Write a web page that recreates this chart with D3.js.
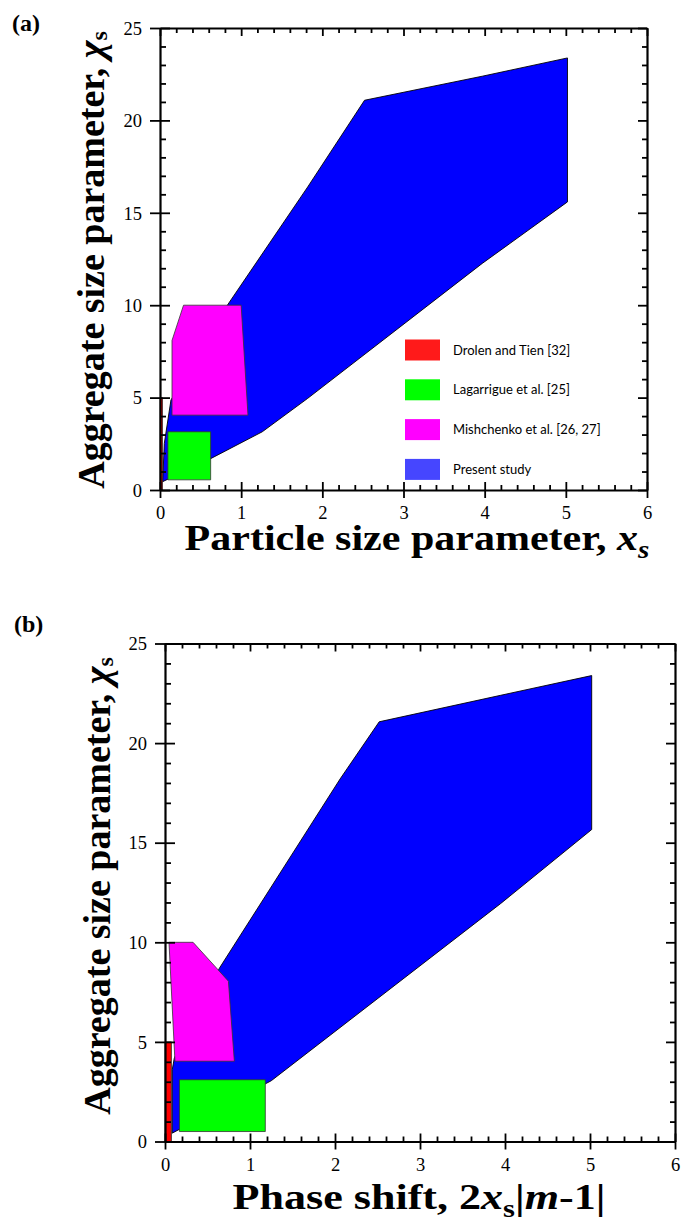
<!DOCTYPE html>
<html>
<head>
<meta charset="utf-8">
<script src="https://cdn.jsdelivr.net/npm/d3@7"></script>
<style>
  html, body { margin: 0; padding: 0; background: #fff; }
  svg { display: block; }
</style>
</head>
<body>
<svg id="chart" width="691" height="1221"></svg>
<script>
// ---- data ----
const xTicks = [0, 1, 2, 3, 4, 5, 6];
const yTicks = [0, 5, 10, 15, 20, 25];
const xMinorTicks = d3.range(0, 6.001, 0.2).map(v => +v.toFixed(1));
const yMinorTicks = d3.range(0, 26, 1);

const legendLabels = ["Drolen and Tien [32]", "Lagarrigue et al. [25]", "Mishchenko et al. [26, 27]", "Present study"];

// (a) regions in particle-size-parameter space [x_s, X_s]
const drolenA = [[0, 0], [0, 5], [0.03, 5], [0.03, 0]];
const lagarrigueA = [[0.097, 0.55], [0.097, 3.15], [0.624, 3.15], [0.624, 0.55]];
const mishchenkoA = [[0.148, 4.05], [0.148, 8.09], [0.29, 10.0], [1.0, 10.0], [1.084, 4.05]];
const presentA = [[0.033, 0.45], [0.053, 2.52], [0.135, 4.87], [0.83, 10.0], [1.82, 16.4], [2.52, 21.09],
                  [3.97, 22.39], [5.02, 23.38], [5.02, 15.59], [3.97, 12.26], [1.82, 4.96], [1.26, 3.15], [0.63, 1.71]];

// (b) regions in phase-shift space [2x_s|m-1|, X_s]
const drolenB = [[0, 0], [0, 5], [0.075, 5], [0.075, 0]];
const lagarrigueB = [[0.17, 0.5], [0.17, 3.1], [1.18, 3.1], [1.18, 0.5]];
const mishchenkoB = [[0.047, 10.0], [0.33, 10.0], [0.746, 8.05], [0.816, 4.03], [0.117, 4.03]];
const presentB = [[0.085, 0.42], [0.085, 3.6], [0.11, 4.2], [0.64, 8.7], [2.06, 18.2], [2.52, 21.07],
                  [3.95, 22.4], [5.02, 23.39], [5.02, 15.66], [3.95, 11.95], [1.25, 3.05]];

// ---- styles ----
const fills = { drolen: "#ff0000", lagarrigue: "#00ff00", mishchenko: "#ff00ff", present: "#0000ff" };
const legendFills = ["#ff1a1a", "#00ff00", "#ff00ff", "#4646ff"];
const serif = "'Liberation Serif', 'Times New Roman', serif";

const svg = d3.select("#chart");

// stretch a text element horizontally about cx so that it spans `width` pixels
function fitWidth(sel, cx, width) {
  const w = sel.node().getBBox().width;
  const k = width / w;
  sel.attr("transform", `translate(${cx},0) scale(${k},1) translate(${-cx},0)`);
}

function drawPanel(cfg) {
  const x = d3.scaleLinear().domain([0, 6]).range([cfg.left, cfg.right]);
  const y = d3.scaleLinear().domain([0, 25]).range([cfg.bottom, cfg.top]);
  const g = svg.append("g");

  const line = d3.line().x(d => x(d[0])).y(d => y(d[1]));
  const regions = [
    [cfg.present, fills.present, "#000", 0.9],
    [cfg.mishchenko, fills.mishchenko, "#333", 0.8],
    [cfg.lagarrigue, fills.lagarrigue, "#333", 0.8],
    [cfg.drolen, fills.drolen, "#222", 0.8]
  ];
  regions.forEach(([pts, fill, stroke, sw]) => {
    g.append("path")
      .attr("d", line(pts) + "Z")
      .attr("fill", fill)
      .attr("stroke", stroke)
      .attr("stroke-width", sw)
      .attr("stroke-linejoin", "miter");
  });

  const styleAxis = sel => {
    sel.select(".domain").attr("stroke", "#000").attr("stroke-width", 2.2);
    sel.selectAll(".tick line").attr("stroke", "#000").attr("stroke-width", 1.8);
  };
  const minorOnly = (all, major) => all.filter(v => !major.includes(v));

  // bottom axis: major ticks cross the axis line, minor ticks point inward
  const bottom = g.append("g").attr("transform", `translate(0,${cfg.bottom})`)
    .call(d3.axisBottom(x).tickValues(xTicks).tickSizeInner(8).tickSizeOuter(0).tickFormat(d3.format("d")));
  bottom.selectAll(".tick line").attr("y1", -8);
  bottom.selectAll(".tick text").attr("y", 29).attr("dy", null)
    .attr("font-family", serif).attr("font-size", 18.5).attr("fill", "#000");
  styleAxis(bottom);
  const bottomMinor = g.append("g").attr("transform", `translate(0,${cfg.bottom})`)
    .call(d3.axisBottom(x).tickValues(minorOnly(xMinorTicks, xTicks)).tickSize(-5).tickFormat(""));
  bottomMinor.select(".domain").remove();
  styleAxis(bottomMinor);

  // top axis
  const top = g.append("g").attr("transform", `translate(0,${cfg.top})`)
    .call(d3.axisTop(x).tickValues(xTicks).tickSize(-8).tickSizeOuter(0).tickFormat(""));
  styleAxis(top);
  const topMinor = g.append("g").attr("transform", `translate(0,${cfg.top})`)
    .call(d3.axisTop(x).tickValues(minorOnly(xMinorTicks, xTicks)).tickSize(-5).tickFormat(""));
  topMinor.select(".domain").remove();
  styleAxis(topMinor);

  // left axis
  const left = g.append("g").attr("transform", `translate(${cfg.left},0)`)
    .call(d3.axisLeft(y).tickValues(yTicks).tickSizeInner(10).tickSizeOuter(0).tickFormat(d3.format("d")));
  left.selectAll(".tick line").attr("x1", 10);
  left.selectAll(".tick text").attr("x", -18).attr("dy", "0.34em")
    .attr("font-family", serif).attr("font-size", 18.5).attr("fill", "#000");
  styleAxis(left);
  const leftMinor = g.append("g").attr("transform", `translate(${cfg.left},0)`)
    .call(d3.axisLeft(y).tickValues(minorOnly(yMinorTicks, yTicks)).tickSize(-6).tickFormat(""));
  leftMinor.select(".domain").remove();
  styleAxis(leftMinor);

  // right axis
  const right = g.append("g").attr("transform", `translate(${cfg.right},0)`)
    .call(d3.axisRight(y).tickValues(yTicks).tickSize(-9).tickSizeOuter(0).tickFormat(""));
  styleAxis(right);
  const rightMinor = g.append("g").attr("transform", `translate(${cfg.right},0)`)
    .call(d3.axisRight(y).tickValues(minorOnly(yMinorTicks, yTicks)).tickSize(-5).tickFormat(""));
  rightMinor.select(".domain").remove();
  styleAxis(rightMinor);

  // panel tag
  g.append("text").attr("x", cfg.tagX).attr("y", cfg.tagY)
    .attr("font-family", serif).attr("font-weight", "bold").attr("font-size", 24)
    .text(cfg.tag);

  // y-axis title
  const yt = g.append("text")
    .attr("transform", `translate(${cfg.yTitleX},${cfg.yTitleCY}) rotate(-90)`)
    .attr("text-anchor", "middle")
    .attr("font-family", serif).attr("font-weight", "bold").attr("font-size", 38);
  yt.append("tspan").text("Aggregate size parameter, ");
  yt.append("tspan").attr("font-style", "italic").text("χ");
  yt.append("tspan").attr("font-size", 24).attr("dy", 3).text("s");

  // x-axis title
  const xt = g.append("text")
    .attr("x", cfg.xTitleCX).attr("y", cfg.xTitleY)
    .attr("text-anchor", "middle")
    .attr("font-family", serif).attr("font-weight", "bold").attr("font-size", 36);
  cfg.xTitle(xt);
  fitWidth(xt, cfg.xTitleCX, cfg.xTitleW);

  return { x, y, g };
}

const pa = drawPanel({
  left: 160, right: 647, top: 28, bottom: 490,
  present: presentA, mishchenko: mishchenkoA, lagarrigue: lagarrigueA, drolen: drolenA,
  tag: "(a)", tagX: 12, tagY: 31, yTitleX: 104, yTitleCY: 260,
  xTitleCX: 417, xTitleY: 550, xTitleW: 465,
  xTitle: t => {
    t.append("tspan").text("Particle size parameter, ");
    t.append("tspan").attr("font-style", "italic").text("x");
    t.append("tspan").attr("font-style", "italic").attr("font-size", 25).attr("dy", 8).text("s");
  }
});

const pb = drawPanel({
  left: 165, right: 675, top: 643.5, bottom: 1141.5,
  present: presentB, mishchenko: mishchenkoB, lagarrigue: lagarrigueB, drolen: drolenB,
  tag: "(b)", tagX: 14, tagY: 632, yTitleX: 110, yTitleCY: 886,
  xTitleCX: 419, xTitleY: 1209, xTitleW: 373,
  xTitle: t => {
    t.append("tspan").text("Phase shift, 2");
    t.append("tspan").attr("font-style", "italic").text("x");
    t.append("tspan").attr("font-size", 25).attr("dy", 8).text("s");
    t.append("tspan").attr("dy", -8).text("|");
    t.append("tspan").attr("font-style", "italic").text("m");
    t.append("tspan").text("-1|");
  }
});

// legend for panel (a)
const legend = pa.g.append("g");
const legendRowY = i => 350 + i * 39.8;
legend.selectAll("rect").data(legendLabels).join("rect")
  .attr("x", 405).attr("y", (d, i) => legendRowY(i) - 10.5)
  .attr("width", 35).attr("height", 21)
  .attr("fill", (d, i) => legendFills[i]);
legend.selectAll("text").data(legendLabels).join("text")
  .attr("x", 453).attr("y", (d, i) => legendRowY(i) + 4.5)
  .attr("font-family", "Lato, 'Open Sans', sans-serif").attr("font-size", 13)
  .attr("fill", "#000")
  .text(d => d);
</script>
</body>
</html>
